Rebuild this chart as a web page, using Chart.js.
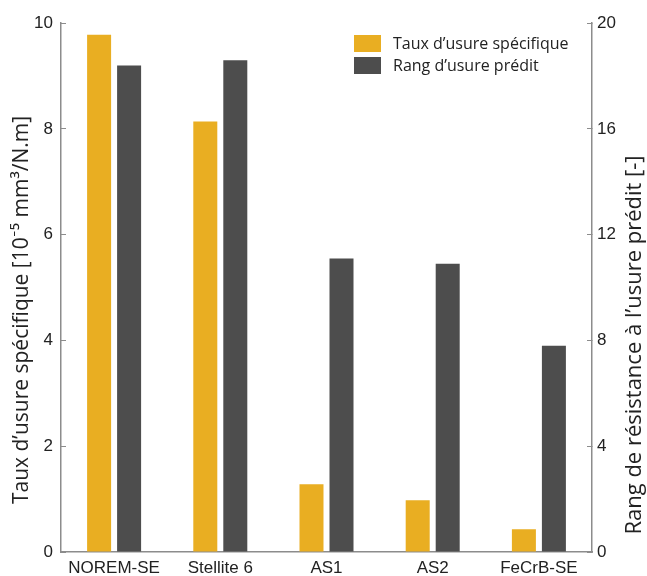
<!DOCTYPE html>
<html>
<head>
<meta charset="utf-8">
<script src="https://cdn.jsdelivr.net/npm/chart.js@4"></script>
<style>
  html, body { margin: 0; padding: 0; background: #fff; }
  #wrap { width: 647px; height: 576px; position: relative; }
</style>
</head>
<body>
<div id="wrap"><canvas id="myChart"></canvas></div>
<script>
const categories = ["NOREM-SE", "Stellite 6", "AS1", "AS2", "FeCrB-SE"];
const tauxUsure = [9.78, 8.14, 1.28, 0.98, 0.43];
const rangUsure = [18.4, 18.6, 11.1, 10.9, 7.8];
const seriesLabels = ["Taux d\u2019usure sp\u00e9cifique", "Rang d\u2019usure pr\u00e9dit"];
const axisTitles = [
  "Taux d\u2019usure sp\u00e9cifique [10\u207b\u2075 mm\u00b3/N.m]",
  "Rang de r\u00e9sistance \u00e0 l\u2019usure pr\u00e9dit [-]",
];

const yellow = "#E9AE22";
const grey = "#4D4D4D";
const axisColor = "#8c8c8c";
const tickFont = { family: "'Liberation Sans', Arial, sans-serif", size: 17 };
const textFamily = "'Open Sans', Lato, sans-serif";

// legend inside the plot + both axis titles read bottom-to-top
const overlay = {
  id: "overlay",
  afterDraw(chart) {
    const ctx = chart.ctx;
    ctx.save();
    ctx.font = "16px " + textFamily;
    ctx.textBaseline = "middle";
    ctx.textAlign = "left";
    chart.data.datasets.forEach((ds, i) => {
      const y = 35 + i * 22;
      ctx.fillStyle = ds.backgroundColor;
      ctx.fillRect(354, y, 27, 17);
      ctx.fillStyle = "#222";
      ctx.fillText(ds.label, 393, y + 9);
    });

    ctx.textAlign = "center";
    ctx.fillStyle = "#222";
    [[22, 310, 21, axisTitles[0]], [635, 345, 22, axisTitles[1]]].forEach(([x, y, size, t]) => {
      ctx.save();
      ctx.font = size + "px " + textFamily;
      ctx.translate(x, y);
      ctx.rotate(-Math.PI / 2);
      ctx.fillText(t, 0, 0);
      ctx.restore();
    });
    ctx.restore();
  }
};

const ctx = document.getElementById("myChart").getContext("2d");
new Chart(ctx, {
  type: "bar",
  data: {
    labels: categories,
    datasets: [
      { label: seriesLabels[0], data: tauxUsure, backgroundColor: yellow, yAxisID: "y",
        categoryPercentage: 0.565, barPercentage: 0.8 },
      { label: seriesLabels[1], data: rangUsure, backgroundColor: grey, yAxisID: "y1",
        categoryPercentage: 0.565, barPercentage: 0.8 },
    ],
  },
  options: {
    responsive: true,
    maintainAspectRatio: false,
    animation: false,
    layout: { padding: { top: 20, left: 0, right: 0, bottom: 0 } },
    plugins: { legend: { display: false }, tooltip: { enabled: false } },
    scales: {
      x: {
        grid: { display: false, drawTicks: false },
        border: { display: true, color: axisColor, width: 1.5 },
        ticks: { color: "#222", font: tickFont, padding: 6, maxRotation: 0 },
        afterFit: (s) => { s.height = 24; },
      },
      y: {
        position: "left",
        min: 0,
        max: 10,
        grid: { drawOnChartArea: false, drawTicks: true, tickLength: -5, color: axisColor },
        border: { display: true, color: axisColor, width: 1.5 },
        ticks: { stepSize: 2, color: "#222", font: tickFont, padding: 13 },
        afterFit: (s) => { s.width = 61; },
      },
      y1: {
        position: "right",
        min: 0,
        max: 20,
        grid: { drawOnChartArea: false, drawTicks: true, tickLength: -5, color: axisColor },
        border: { display: true, color: axisColor, width: 1.5 },
        ticks: { stepSize: 4, color: "#222", font: tickFont, padding: 10 },
        afterFit: (s) => { s.width = 55; },
      },
    },
  },
  plugins: [overlay],
});
</script>
</body>
</html>
